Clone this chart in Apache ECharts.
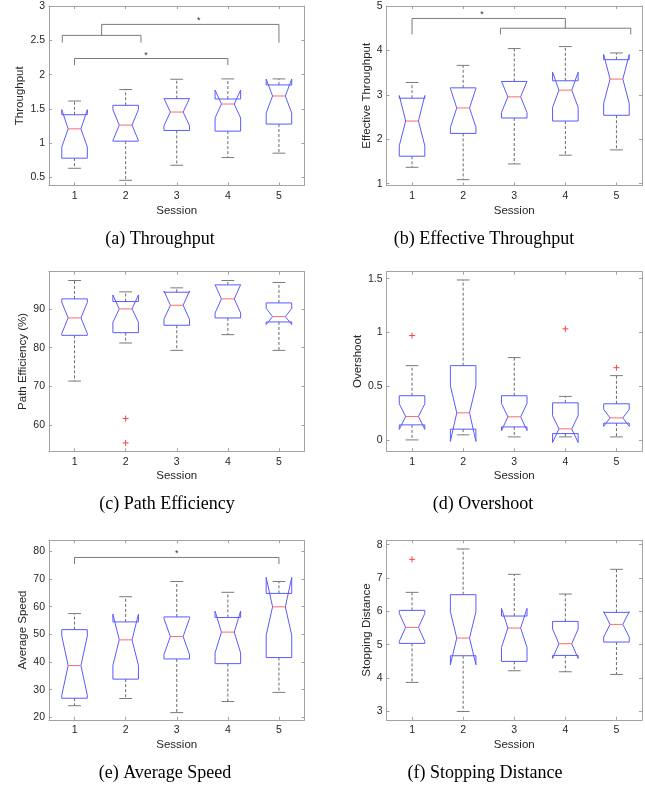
<!DOCTYPE html>
<html>
<head>
<meta charset="utf-8">
<script src="https://cdn.jsdelivr.net/npm/echarts@6/dist/echarts.min.js"></script>
<style>
  html, body { margin: 0; padding: 0; background: #fff; }
  #chart { width: 645px; height: 786px; }
</style>
</head>
<body>
<div id="chart"></div>
<script>
const sessions = [1, 2, 3, 4, 5]

// one row per session: [lower whisker, Q1, notch low, median, notch high, Q3, upper whisker]
const throughput = [
  [0.636, 0.783, 0.945, 1.210, 1.490, 1.416, 1.616],
  [0.461, 1.031, 1.040, 1.265, 1.490, 1.553, 1.782],
  [0.680, 1.187, 1.257, 1.455, 1.653, 1.650, 1.933],
  [0.792, 1.177, 1.370, 1.572, 1.775, 1.645, 1.938],
  [0.856, 1.280, 1.440, 1.689, 1.935, 1.850, 1.938]
]
const effThroughput = [
  [1.370, 1.619, 1.854, 2.411, 2.985, 2.925, 3.279],
  [1.091, 2.132, 2.268, 2.706, 3.144, 3.158, 3.664],
  [1.445, 2.479, 2.604, 2.955, 3.306, 3.302, 4.042],
  [1.642, 2.411, 2.720, 3.106, 3.510, 3.317, 4.087],
  [1.762, 2.540, 2.810, 3.355, 3.910, 3.792, 3.943]
]
const pathEff = [
  [71.38, 83.19, 83.67, 87.67, 91.70, 92.59, 97.33],
  [81.21, 83.88, 86.57, 90.00, 93.60, 91.90, 94.40],
  [79.31, 85.78, 87.31, 90.95, 94.62, 94.31, 95.43],
  [83.36, 87.67, 88.95, 92.59, 96.23, 96.20, 97.33],
  [79.31, 86.64, 85.97, 88.02, 90.12, 91.55, 96.81]
]
const overshoot = [
  [0.000, 0.140, 0.098, 0.218, 0.336, 0.411, 0.691],
  [0.047, 0.100, -0.014, 0.252, 0.504, 0.691, 1.488],
  [0.028, 0.121, 0.086, 0.215, 0.339, 0.411, 0.766],
  [0.028, 0.059, -0.024, 0.103, 0.225, 0.345, 0.405],
  [0.028, 0.156, 0.126, 0.205, 0.284, 0.336, 0.598]
]
const avgSpeed = [
  [24.2, 26.9, 28.0, 38.7, 49.4, 51.7, 57.5],
  [26.8, 33.8, 38.8, 48.0, 57.3, 54.5, 63.6],
  [21.7, 41.1, 42.7, 49.2, 55.7, 56.3, 69.1],
  [25.7, 39.4, 43.3, 50.8, 58.4, 56.1, 65.2],
  [29.0, 41.6, 49.7, 59.95, 70.6, 64.8, 69.1]
]
const stopDist = [
  [3.87, 5.04, 5.10, 5.52, 5.94, 6.03, 6.57],
  [3.00, 4.67, 4.40, 5.20, 5.99, 6.50, 7.87],
  [4.22, 4.50, 4.92, 5.50, 6.09, 5.86, 7.11],
  [4.19, 4.68, 4.59, 5.03, 5.47, 5.70, 6.52],
  [4.11, 5.08, 5.23, 5.61, 5.99, 5.97, 7.26]
]

// outliers: [session, value]
const pathEffOut = [[2, 61.72], [2, 55.43]]
const overshootOut = [[1, 0.971], [4, 1.033], [5, 0.672]]
const stopDistOut = [[1, 7.56]]

// significance brackets: [x1, leg1 end, x2, leg2 end, bar level]
const throughputBr = [[0.76, 2.465, 2.30, 2.465, 2.572], [1.53, 2.572, 5.0, 2.465, 2.732], [1, 2.137, 4, 2.137, 2.235]]
const throughputStar = [[3.43, 2.79], [2.4, 2.28]]
const effThroughputBr = [[1, 4.36, 4, 4.50, 4.72], [2.73, 4.36, 5.28, 4.36, 4.50]]
const effThroughputStar = [[2.37, 4.80]]
const avgSpeedBr = [[1, 75.4, 5, 75.4, 77.8]]
const avgSpeedStar = [[3.0, 79.3]]

// y ticks
const ticksA = [0.5, 1, 1.5, 2, 2.5, 3]
const ticksB = [1, 2, 3, 4, 5]
const ticksC = [60, 70, 80, 90]
const ticksD = [0, 0.5, 1, 1.5]
const ticksE = [20, 30, 40, 50, 60, 70, 80]
const ticksF = [3, 4, 5, 6, 7, 8]

const panels = [
  { title: '(a) Throughput', yName: 'Throughput', gap: 23, min: 0.385, max: 3, ticks: ticksA, box: throughput, out: [], br: throughputBr, star: throughputStar, col: 0, row: 0, tx: 160 },
  { title: '(b) Effective Throughput', yName: 'Effective Throughput', gap: 14, min: 0.96, max: 5, ticks: ticksB, box: effThroughput, out: [], br: effThroughputBr, star: effThroughputStar, col: 1, row: 0, tx: 484 },
  { title: '(c) Path Efficiency', yName: 'Path Efficiency (%)', gap: 20, min: 53.3, max: 99.6, ticks: ticksC, box: pathEff, out: pathEffOut, br: [], star: [], col: 0, row: 1, tx: 167 },
  { title: '(d) Overshoot', yName: 'Overshoot', gap: 23, min: -0.105, max: 1.565, ticks: ticksD, box: overshoot, out: overshootOut, br: [], star: [], col: 1, row: 1, tx: 483 },
  { title: '(e) Average Speed', yName: 'Average Speed', gap: 20, min: 19.1, max: 84, ticks: ticksE, box: avgSpeed, out: [], br: avgSpeedBr, star: avgSpeedStar, col: 0, row: 2, tx: 165 },
  { title: '(f) Stopping Distance', yName: 'Stopping Distance', gap: 14, min: 2.75, max: 8.13, ticks: ticksF, box: stopDist, out: stopDistOut, br: [], star: [], col: 1, row: 2, tx: 485 }
]

const colLeft = [49, 386.5]
const rowTop = [6, 271.7, 540.3]
const gridW = 255.5
const gridH = 179.5
const frameColor = '#a3a3a3'
const textColor = '#262626'
const sans = 'Liberation Sans, Arial, sans-serif'

function renderBox(params, api) {
  const x = api.value(0)
  const wlo = api.value(1), q1 = api.value(2), nlo = api.value(3), med = api.value(4)
  const nhi = api.value(5), q3 = api.value(6), whi = api.value(7)
  const hw = 0.25, nw = 0.125, cw = 0.125
  const p = (dx, y) => api.coord([x + dx, y])
  const seg = (a, b, style) => ({ type: 'line', shape: { x1: a[0], y1: a[1], x2: b[0], y2: b[1] }, style })
  const dash = { stroke: '#6a6a6a', lineWidth: 1, lineDash: [3, 2] }
  const cap = { stroke: '#7a7a7a', lineWidth: 1 }
  const pts = [p(-hw, q1), p(-hw, nlo), p(-nw, med), p(-hw, nhi), p(-hw, q3),
    p(hw, q3), p(hw, nhi), p(nw, med), p(hw, nlo), p(hw, q1)]
  return {
    type: 'group',
    children: [
      seg(p(0, q3), p(0, whi), dash),
      seg(p(0, q1), p(0, wlo), dash),
      seg(p(-cw, whi), p(cw, whi), cap),
      seg(p(-cw, wlo), p(cw, wlo), cap),
      { type: 'polygon', shape: { points: pts }, style: { fill: 'none', stroke: '#5a5aff', lineWidth: 1 } },
      seg(p(-nw, med), p(nw, med), { stroke: '#ff6a6a', lineWidth: 1 })
    ]
  }
}

function renderOutlier(params, api) {
  const c = api.coord([api.value(0), api.value(1)])
  const st = { stroke: '#ff4040', lineWidth: 1 }
  return {
    type: 'group',
    children: [
      { type: 'line', shape: { x1: c[0] - 3, y1: c[1], x2: c[0] + 3, y2: c[1] }, style: st },
      { type: 'line', shape: { x1: c[0], y1: c[1] - 3, x2: c[0], y2: c[1] + 3 }, style: st }
    ]
  }
}

function renderBracket(params, api) {
  const x1 = api.value(0), y1 = api.value(1), x2 = api.value(2), y2 = api.value(3), yb = api.value(4)
  return {
    type: 'polyline',
    shape: { points: [api.coord([x1, y1]), api.coord([x1, yb]), api.coord([x2, yb]), api.coord([x2, y2])] },
    style: { fill: 'none', stroke: '#7a7a7a', lineWidth: 1 }
  }
}

function renderStar(params, api) {
  const c = api.coord([api.value(0), api.value(1)])
  return {
    type: 'text', x: c[0], y: c[1],
    style: { text: '*', fontSize: 9, fontFamily: sans, fill: '#333', align: 'center', verticalAlign: 'middle' }
  }
}

const grid = [], xAxis = [], yAxis = [], series = [], graphic = []

panels.forEach((pn, i) => {
  const left = colLeft[pn.col], top = rowTop[pn.row]
  grid.push({ left, top, width: gridW, height: gridH })
  const line = { show: true, onZero: false, lineStyle: { color: frameColor, width: 1 } }
  const tick = (vals) => ({ show: true, inside: true, length: 3, customValues: vals, lineStyle: { color: frameColor } })
  xAxis.push({
    gridIndex: i, type: 'value', min: 0.5, max: 5.5,
    name: 'Session', nameLocation: 'middle', nameGap: 19,
    nameTextStyle: { fontSize: 11.5, color: textColor, fontFamily: sans },
    axisLine: line, axisTick: tick(sessions),
    axisLabel: { customValues: sessions, fontSize: 10.5, color: textColor, fontFamily: sans, margin: 5 },
    splitLine: { show: false }
  })
  xAxis.push({
    gridIndex: i, type: 'value', min: 0.5, max: 5.5, position: 'top',
    axisLine: line, axisTick: tick(sessions), axisLabel: { show: false }, splitLine: { show: false }
  })
  yAxis.push({
    gridIndex: i, type: 'value', min: pn.min, max: pn.max,
    name: pn.yName, nameLocation: 'middle', nameGap: pn.gap,
    nameTextStyle: { fontSize: 11.5, color: textColor, fontFamily: sans },
    axisLine: line, axisTick: tick(pn.ticks),
    axisLabel: { customValues: pn.ticks, fontSize: 10.5, color: textColor, fontFamily: sans, margin: 4 },
    splitLine: { show: false }
  })
  yAxis.push({
    gridIndex: i, type: 'value', min: pn.min, max: pn.max, position: 'right',
    axisLine: line, axisTick: tick(pn.ticks), axisLabel: { show: false }, splitLine: { show: false }
  })
  const xi = i * 2, yi = i * 2
  series.push({
    type: 'custom', xAxisIndex: xi, yAxisIndex: yi, renderItem: renderBox,
    encode: { x: 0, y: [1, 2, 3, 4, 5, 6, 7] },
    data: pn.box.map((r, k) => [sessions[k]].concat(r))
  })
  if (pn.out.length) {
    series.push({ type: 'custom', xAxisIndex: xi, yAxisIndex: yi, renderItem: renderOutlier, encode: { x: 0, y: 1 }, data: pn.out })
  }
  if (pn.br.length) {
    series.push({ type: 'custom', xAxisIndex: xi, yAxisIndex: yi, renderItem: renderBracket, encode: { x: [0, 2], y: [1, 3, 4] }, data: pn.br })
    series.push({ type: 'custom', xAxisIndex: xi, yAxisIndex: yi, renderItem: renderStar, encode: { x: 0, y: 1 }, data: pn.star })
  }
  graphic.push({
    type: 'text', left: pn.tx, top: top + 233, 
    style: { text: pn.title, fontSize: 18, fontFamily: 'Liberation Serif, Times New Roman, serif', fill: '#000', align: 'center', verticalAlign: 'middle' }
  })
})

const chart = echarts.init(document.getElementById('chart'))
chart.setOption({
  animation: false,
  grid, xAxis, yAxis, series,
  graphic: graphic.map(g => ({ type: 'text', x: g.left, y: g.top, style: g.style }))
})
</script>
</body>
</html>
